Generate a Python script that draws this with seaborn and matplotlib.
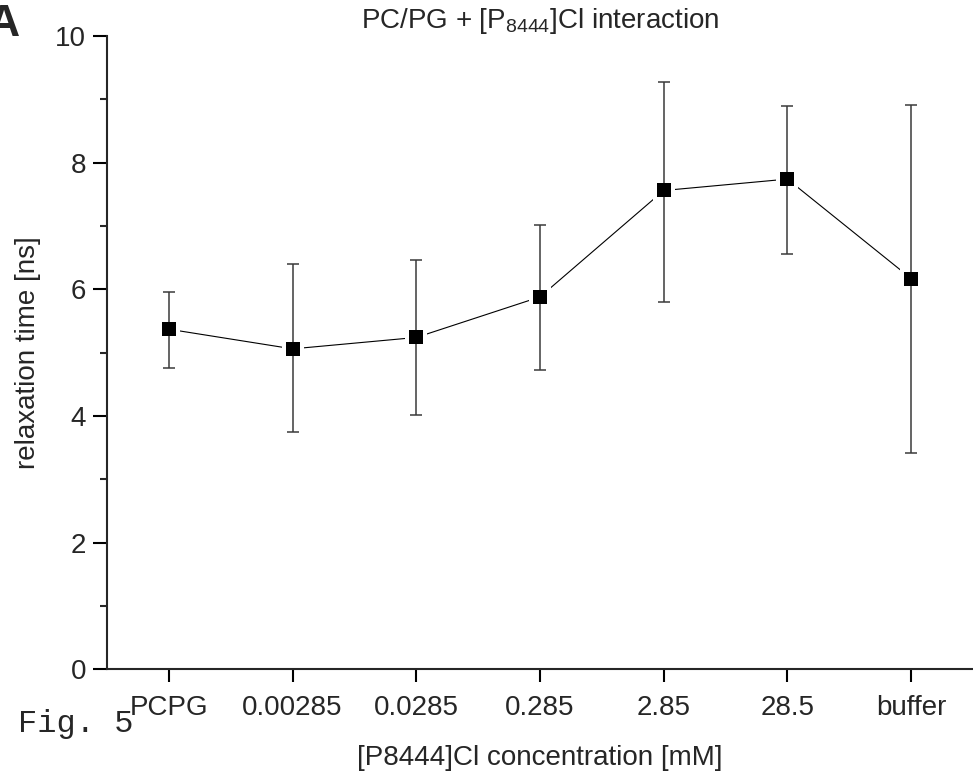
import matplotlib
matplotlib.use("Agg")
import matplotlib.pyplot as plt
import seaborn as sns
import pandas as pd
from matplotlib.ticker import MultipleLocator

# values
categories = ["PCPG", "0.00285", "0.0285", "0.285", "2.85", "28.5", "buffer"]
relax_time = [5.37, 5.06, 5.24, 5.88, 7.56, 7.74, 6.17]
err_upper = [5.96, 6.40, 6.46, 7.02, 9.28, 8.90, 8.91]
err_lower = [4.75, 3.74, 4.02, 4.73, 5.80, 6.55, 3.41]

df = pd.DataFrame({"conc": categories, "tau": relax_time})
yerr = [[m - lo for m, lo in zip(relax_time, err_lower)],
        [hi - m for m, hi in zip(relax_time, err_upper)]]

sns.set_style("ticks")
plt.rcParams["font.family"] = ["Liberation Sans", "DejaVu Sans"]
plt.rcParams["mathtext.default"] = "regular"

fig = plt.figure(figsize=(9.73, 7.71), dpi=100)
ax = fig.add_axes([0.110, 0.1318, 0.890, 0.8216])

sns.lineplot(data=df, x="conc", y="tau", sort=False, errorbar=None,
             color="black", linewidth=0.8, ax=ax, zorder=1)
# white halo so the connecting line stops short of the markers
ax.plot(categories, relax_time, ls="none", marker="s", markersize=16,
        color="white", mew=0, zorder=2)
ax.errorbar(categories, relax_time, yerr=yerr, fmt="none", ecolor="#3a3a3a",
            elinewidth=1.1, capsize=4.6, capthick=1.1, zorder=3)
ax.plot(categories, relax_time, ls="none", marker="s", markersize=10.3,
        color="black", mew=0, zorder=4)

ax.set_xlim(-0.5, 6.5)
ax.set_ylim(0, 10)
ax.yaxis.set_major_locator(MultipleLocator(2))
ax.yaxis.set_minor_locator(MultipleLocator(1))

sns.despine(ax=ax)
for side in ["left", "bottom"]:
    ax.spines[side].set_linewidth(1.5)
ax.tick_params(axis="both", which="major", direction="out", width=1.5,
               labelsize=20, color="black")
ax.tick_params(axis="x", which="major", length=9, pad=9.5)
ax.tick_params(axis="y", which="major", length=10, pad=5)
ax.tick_params(axis="y", which="minor", direction="out", length=5, width=1.5)

ax.set_xlabel("[P8444]Cl concentration [mM]", fontsize=20, labelpad=17)
ax.set_ylabel("relaxation time [ns]", fontsize=20, labelpad=10)
ax.set_title("PC/PG + [P$_{8444}$]Cl interaction", fontsize=20, pad=6)

fig.text(-0.012, 0.995, "A", fontsize=32, fontweight="bold", ha="left", va="top")
fig.text(0.018, 0.0506, "Fig. 5", fontsize=23, family="Liberation Mono",
         ha="left", va="baseline")

fig.savefig("out.png", dpi=100)
